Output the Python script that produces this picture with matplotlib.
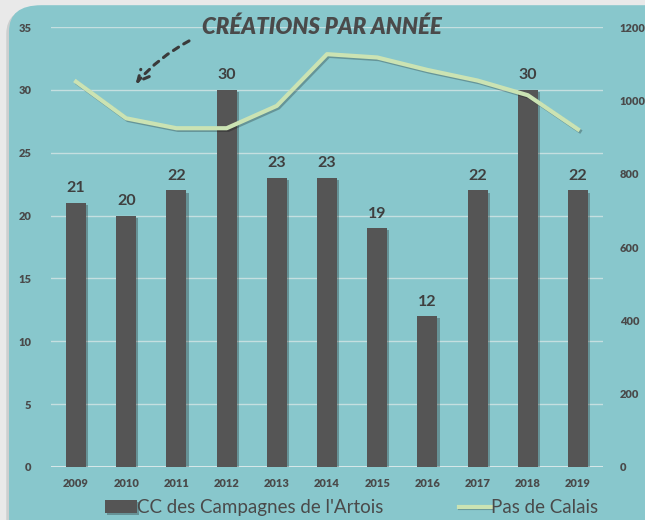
import matplotlib.pyplot as plt
import matplotlib.patheffects as pe
from matplotlib.patches import FancyBboxPatch
import numpy as np

years = ["2009", "2010", "2011", "2012", "2013", "2014", "2015", "2016", "2017", "2018", "2019"]
cc_artois = [21, 20, 22, 30, 23, 23, 19, 12, 22, 30, 22]
pas_de_calais = [1051, 951, 924, 924, 985, 1126, 1117, 1083, 1054, 1014, 921]

bg = "#88c7cc"
dark = "#4a4a4a"
bar_col = "#555555"
line_col = "#cbe3b3"
grid_col = "#c5dfe0"

plt.rcParams["font.family"] = ["Lato", "DejaVu Sans"]

fig = plt.figure(figsize=(6.45, 5.2), dpi=100)
fig.patch.set_facecolor("#e9e9e9")
card = FancyBboxPatch((0.014, -0.1), 1.1, 1.09, boxstyle="round,pad=0,rounding_size=0.05",
                      transform=fig.transFigure, facecolor=bg, edgecolor="none", zorder=-5,
                      path_effects=[pe.SimplePatchShadow(offset=(-2, -2), alpha=0.15), pe.Normal()])
fig.patches.append(card)

ax = fig.add_axes([0.079, 0.102, 0.856, 0.846])
ax.set_facecolor("none")
x = np.arange(len(years))

for v in range(5, 40, 5):
    ax.axhline(v, color=grid_col, lw=1, zorder=0)
ax.axhline(0, color="#e6eeee", lw=1.2, zorder=0)

bars = ax.bar(x, cc_artois, width=0.4, color=bar_col, zorder=2,
              label="CC des Campagnes de l'Artois",
              path_effects=[pe.SimplePatchShadow(offset=(1.5, -1.5), alpha=0.3), pe.Normal()])
for xi, v in zip(x, cc_artois):
    ax.text(xi, v + 0.6, str(v), ha="center", va="bottom", fontsize=11.5,
            fontweight="bold", color="#3f3f3f", zorder=5)

ax.set_xlim(-0.5, 10.5)
ax.set_ylim(0, 35)
ax.set_yticks(range(0, 40, 5))
ax.set_xticks(x)
ax.set_xticklabels(years)
for s in ax.spines.values():
    s.set_visible(False)
ax.tick_params(axis="both", length=0, colors=dark, labelsize=8)
ax.tick_params(axis="y", pad=14)
ax.tick_params(axis="x", pad=8)
for t in ax.get_xticklabels() + ax.get_yticklabels():
    t.set_fontweight("heavy")

ax2 = ax.twinx()
ax2.set_ylim(0, 1200)
ax2.set_yticks(range(0, 1400, 200))
line, = ax2.plot(x, pas_de_calais, color=line_col, lw=3, zorder=3, label="Pas de Calais",
                 solid_joinstyle="round",
                 path_effects=[pe.SimpleLineShadow(offset=(1.2, -1.2), alpha=0.25), pe.Normal()])
for s in ax2.spines.values():
    s.set_visible(False)
ax2.tick_params(axis="y", length=0, colors=dark, labelsize=8, pad=12)
for t in ax2.get_yticklabels():
    t.set_fontweight("heavy")

fig.text(0.499, 0.948, "CRÉATIONS PAR ANNÉE", ha="center", va="center", fontsize=16,
         fontstyle="italic", fontweight="heavy", color=dark)

ax.annotate("", xy=(1.15, 30.3), xytext=(2.3, 34.0), annotation_clip=False,
            arrowprops=dict(arrowstyle="->", linestyle=(0, (2, 2)), lw=2.2, color="#3a3a3a",
                            connectionstyle="arc3,rad=0.1", mutation_scale=20))

leg = fig.legend(handles=[bars, line], loc="lower center", bbox_to_anchor=(0.545, -0.025),
                 ncol=2, frameon=False, fontsize=13.5, handlelength=1.7, handletextpad=0.0,
                 columnspacing=4.0, labelcolor=dark)

fig.savefig("out.png", dpi=100, facecolor=fig.get_facecolor())
